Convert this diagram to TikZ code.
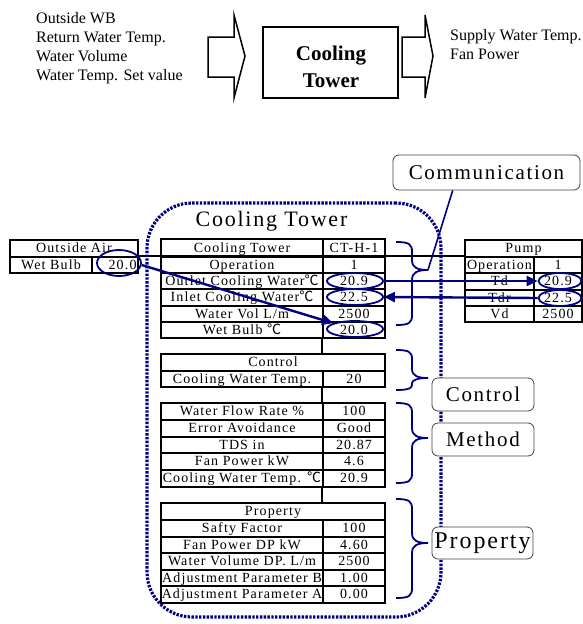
\documentclass[tikz,border=0pt]{standalone}
\usepackage{fontspec}
\setmainfont{Liberation Serif}
\newfontfamily\tabfont[LetterSpace=8]{Liberation Serif}
\newfontfamily\cjkfont{Noto Sans CJK JP}
\newcommand\dC{{\cjkfont ℃}}
\usetikzlibrary{decorations.pathreplacing,calc,arrows.meta,shapes.geometric}
\definecolor{navyb}{RGB}{0,0,128}
% table cell: name, x1, y1, x2, y2, text
\newcommand\tc[6]{\node[cell, minimum width={#4pt-#2pt}, minimum height={#5pt-#3pt}] (#1) at ({(#2+#4)/2},{(#3+#5)/2}) {#6};}
% right brace: y-top, y-tip, y-bottom, r-top, r-bottom
\newcommand\rbr[5]{\draw[bracel] (396,#1) .. controls (409,#1) and (412,{#1+2}) .. (412,{#1+#4})
  -- (412,{#2-#4}) .. controls (412,{#2-2}) and (418,#2) .. (428,#2)
  .. controls (418,#2) and (412,{#2+2}) .. (412,{#2+#5})
  -- (412,{#3-#5}) .. controls (412,{#3-2}) and (409,#3) .. (396,#3);}
\begin{document}
\begin{tikzpicture}[x=1pt,y=-1pt,
  cell/.style={draw=black, line width=1.4pt, inner sep=0pt, font=\tabfont\fontsize{14}{14}\selectfont, text height=9.5pt, text depth=1pt},
  ctext/.style={inner sep=0pt, font=\tabfont\fontsize{14}{14}\selectfont, text height=9.5pt, text depth=1pt},
  conn/.style={draw=black, line width=2.2pt},
  oval/.style={ellipse, draw=navyb, line width=1.8pt, inner sep=0pt},
  arr/.style={draw=navyb, line width=2.4pt, -{Triangle[length=11pt,width=10pt]}},
  bracel/.style={draw=navyb, line width=1.8pt},
  navyline/.style={draw=navyb, line width=1.6pt},
  lbox/.style={draw=black!75, line width=0.8pt, rounded corners=6pt, fill=white, inner sep=0pt, font=\tabfont\fontsize{21}{21}\selectfont},
  dotbox/.style={draw=navyb, line width=3.2pt, dash pattern=on 2.4pt off 1.4pt, rounded corners=45pt, inner sep=0pt},
  toptext/.style={inner sep=0pt, anchor=base west, font=\fontsize{16}{19}\selectfont},
  blockarrow/.style={draw=black, line width=1.5pt, line join=miter}
]
\useasboundingbox (0,0) rectangle (583,624);

% ---------- top section ----------
\node[toptext] (in1) at (36,23) {Outside WB};
\node[toptext] (in2) at (36,42) {Return Water Temp.};
\node[toptext] (in3) at (36,61.5) {Water Volume};
\node[toptext] (in4) at (36,80) {Water Temp. Set value};
\draw[blockarrow] (208,37) -- (234,37) -- (234,15) -- (245,56) -- (234,98) -- (234,77) -- (208,77) -- cycle;
\node[draw=black, line width=1.5pt, minimum width=135pt, minimum height=71pt, inner sep=0pt] (ctbox) at (330.5,62.5) {};
\node[inner sep=0pt, anchor=base, font=\bfseries\fontsize{21}{21}\selectfont] (ctb1) at (331,60) {Cooling};
\node[inner sep=0pt, anchor=base, font=\bfseries\fontsize{21}{21}\selectfont] (ctb2) at (331,87) {Tower};
\draw[blockarrow] (402,37) -- (425,37) -- (425,15) -- (433,56) -- (425,98) -- (425,77) -- (402,77) -- cycle;
\node[toptext] (out1) at (450,40) {Supply Water Temp.};
\node[toptext] (out2) at (450,59) {Fan Power};

% ---------- Outside Air table ----------
\tc{oa1}{10}{240}{138}{257}{Outside Air}
\tc{oa2l}{10}{257}{92}{273}{Wet Bulb}
\tc{oa2r}{92}{257}{138}{273}{}
\node[ctext, anchor=east] (oav) at ([xshift=-2pt]oa2r.east) {20.0};

% ---------- Cooling Tower table ----------
\tc{ct1l}{161}{239}{323}{257}{Cooling Tower}
\tc{ct1r}{323}{239}{385}{257}{CT-H-1}
\tc{ct2l}{161}{257}{323}{273}{Operation}
\tc{ct2r}{323}{257}{385}{273}{1}
\tc{ct3l}{161}{273}{323}{289}{Outlet Cooling Water\dC}
\tc{ct3r}{323}{273}{385}{289}{20.9}
\tc{ct4l}{161}{289}{323}{306}{Inlet Cooling Water\dC}
\tc{ct4r}{323}{289}{385}{306}{22.5}
\tc{ct5l}{161}{306}{323}{322}{Water Vol L/m}
\tc{ct5r}{323}{306}{385}{322}{2500}
\tc{ct6l}{161}{322}{323}{338}{Wet Bulb \dC}
\tc{ct6r}{323}{322}{385}{338}{20.0}

% ---------- Control table ----------
\tc{co1}{161}{354}{385}{371}{Control}
\tc{co2l}{161}{371}{323}{387}{Cooling Water Temp.}
\tc{co2r}{323}{371}{385}{387}{20}

% ---------- Method table ----------
\tc{me1l}{161}{403}{323}{420}{Water Flow Rate \%}
\tc{me1r}{323}{403}{385}{420}{100}
\tc{me2l}{161}{420}{323}{437}{Error Avoidance}
\tc{me2r}{323}{420}{385}{437}{Good}
\tc{me3l}{161}{437}{323}{453}{TDS in}
\tc{me3r}{323}{437}{385}{453}{20.87}
\tc{me4l}{161}{453}{323}{470}{Fan Power kW}
\tc{me4r}{323}{453}{385}{470}{4.6}
\tc{me5l}{161}{470}{323}{487}{Cooling Water Temp. \dC}
\tc{me5r}{323}{470}{385}{487}{20.9}

% ---------- Property table ----------
\tc{pr1}{161}{503}{385}{520}{Property}
\tc{pr2l}{161}{520}{323}{537}{Safty Factor}
\tc{pr2r}{323}{520}{385}{537}{100}
\tc{pr3l}{161}{537}{323}{553}{Fan Power DP kW}
\tc{pr3r}{323}{537}{385}{553}{4.60}
\tc{pr4l}{161}{553}{323}{570}{Water Volume DP. L/m}
\tc{pr4r}{323}{553}{385}{570}{2500}
\tc{pr5l}{161}{570}{323}{586}{Adjustment Parameter B}
\tc{pr5r}{323}{570}{385}{586}{1.00}
\tc{pr6l}{161}{586}{323}{603}{Adjustment Parameter A}
\tc{pr6r}{323}{586}{385}{603}{0.00}

% ---------- Pump table ----------
\tc{pu1}{465}{240}{582}{257}{Pump}
\tc{pu2l}{465}{257}{534}{273}{Operation}
\tc{pu2r}{534}{257}{582}{273}{1}
\tc{pu3l}{465}{273}{534}{290}{Td}
\tc{pu3r}{534}{273}{582}{290}{20.9}
\tc{pu4l}{465}{290}{534}{306}{Tdr}
\tc{pu4r}{534}{290}{582}{306}{22.5}
\tc{pu5l}{465}{306}{534}{322}{Vd}
\tc{pu5r}{534}{306}{582}{322}{2500}

% ---------- black connectors ----------
\draw[conn] (oa2r.north east) -- (pu2l.north west);
\draw[conn] (ct6r.south west) -- (co2r.north west |- co1.north);
\draw[conn] (co2r.south west) -- (me1r.north west);
\draw[conn] (me5r.south west) -- (pr2r.north west |- pr1.north);

% ---------- dotted group ----------
\node[dotbox, minimum width=294pt, minimum height=414pt] (grp) at (294,410) {};
\node[inner sep=0pt, font=\tabfont\fontsize{22}{22}\selectfont] (grptitle) at (271.5,221) {Cooling Tower};

% ---------- ellipses ----------
\node[oval, minimum width=44pt, minimum height=26pt] (e1) at (119,263) {};
\node[oval, minimum width=56pt, minimum height=16pt] (e2) at (355,281) {};
\node[oval, minimum width=56pt, minimum height=16pt] (e3) at (355,297) {};
\node[oval, minimum width=56pt, minimum height=16pt] (e4) at (355,329) {};
\node[oval, minimum width=43pt, minimum height=16pt] (e5) at (560,281) {};
\node[oval, minimum width=43pt, minimum height=16pt] (e6) at (560,298) {};

% ---------- arrows ----------
\draw[arr] (e1.-5) -- (e4.165);
\draw[arr] (e2.east) -- (e5.west);
\draw[arr] (e6.west) -- (e3.east);

% ---------- braces ----------
\rbr{242}{270}{325}{10}{10}
\rbr{350}{378}{390}{9}{5}
\rbr{403}{438}{483}{10}{10}
\rbr{499}{543}{598}{10}{10}
\coordinate (combr) at (428,270);

% ---------- label boxes ----------
\node[lbox, minimum width=187pt, minimum height=35pt] (comm) at (486.5,172.5) {Communication};
\node[lbox, minimum width=102pt, minimum height=33pt] (ctrl) at (483,394.5) {Control};
\node[lbox, minimum width=102pt, minimum height=33pt] (meth) at (483,439.5) {Method};
\node[lbox, minimum width=101pt, minimum height=32pt, font=\tabfont\fontsize{24}{24}\selectfont] (prop) at (482.5,543) {Property};
\draw[navyline] (combr) -- ($(comm.south west)!0.32!(comm.south east)$);
\end{tikzpicture}
\end{document}
